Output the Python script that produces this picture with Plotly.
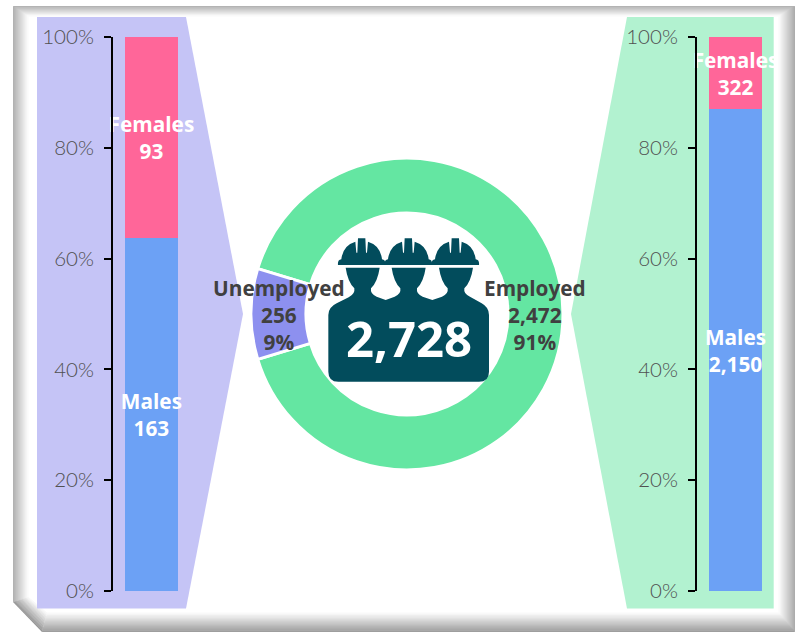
import plotly.graph_objects as go

W, H = 795, 634

# ---- data ----
status_labels = ["Employed", "Unemployed"]
status_values = [2472, 256]
group_labels = ["Males", "Females"]
unemployed_values = [163, 93]
employed_values = [2150, 322]
y_ticks = [0, 20, 40, 60, 80, 100]
y_tick_labels = ["0%", "20%", "40%", "60%", "80%", "100%"]

# ---- style ----
FONT = "Open Sans"
TICKFONT = "Lato"
BLUE, PINK = "#6CA1F5", "#FF6699"
GREEN, PURPLE = "#64E6A2", "#8D90EF"
TEAL = "#024C5C"


def px(x):
    return x / W


def py(y):
    return 1 - y / H


def poly(points, fill, layer="below"):
    d = "M " + " L ".join(f"{px(x):.5f},{py(y):.5f}" for x, y in points) + " Z"
    return dict(type="path", xref="paper", yref="paper", path=d, fillcolor=fill,
                line=dict(width=0), layer=layer)


def mix(c, t):
    v = round(c + (255 - c) * t)
    return f"rgb({v},{v},{v})"


shapes = []

# bevelled frame
O = dict(l=13, t=6, r=795, b=632, cy=602, cx=42)
I = dict(l=28, t=16, r=779, b=613, cy=597, cx=47)
N = 16
edge = dict(top=178, left=178, right=172, bottom=158, cham=150)
shapes.append(poly([(0, 0), (W, 0), (W, H), (0, H)], "#FFFFFF"))
for i in range(N):
    a, b = i / N, (i + 1) / N
    v = {k: O[k] + (I[k] - O[k]) * a for k in O}
    u = {k: O[k] + (I[k] - O[k]) * b for k in O}
    t = a
    shapes += [
        poly([(v["l"], v["t"]), (v["r"], v["t"]), (u["r"], u["t"] + .6), (u["l"], u["t"] + .6)], mix(edge["top"], t)),
        poly([(v["r"], v["t"]), (v["r"], v["b"]), (u["r"] - .6, u["b"]), (u["r"] - .6, u["t"])], mix(edge["right"], t)),
        poly([(v["cx"], v["b"]), (v["r"], v["b"]), (u["r"], u["b"] - .6), (u["cx"], u["b"] - .6)], mix(edge["bottom"], t)),
        poly([(v["l"], v["t"]), (v["l"], v["cy"]), (u["l"] + .6, u["cy"]), (u["l"] + .6, u["t"])], mix(edge["left"], t)),
        poly([(v["l"], v["cy"]), (v["cx"], v["b"]), (u["cx"], u["b"] - .6), (u["l"] + .6, u["cy"])], mix(edge["cham"], t)),
    ]

# callout panels behind the bars
shapes.append(poly([(37, 17), (186, 17), (243, 314), (186, 608.5), (37, 608.5)], "#C5C4F6"))
shapes.append(poly([(627, 17), (773.7, 17), (773.7, 608.5), (627, 608.5), (571, 314)], "#B2F2D0"))


# workers icon, in zoomed-crop coordinates of the centre region
def zx(x):
    return px(200 + x / 3)


def zy(y):
    return py(220 + y / 3)


def P(x, y):
    return f"{zx(x):.5f},{zy(y):.5f}"


def icon_path(cmds):
    out = []
    for c in cmds:
        op, pts = c[0], c[1:]
        out.append(op + " " + " ".join(P(*p) for p in pts))
    return " ".join(out) + " Z"


def head(c):
    return [
        ("Q", (c - 22, 222), (c - 25, 205)),
        ("Q", (c - 45, 185), (c - 51, 143)),
        ("L", (c + 51, 143)),
        ("Q", (c + 45, 185), (c + 25, 205)),
        ("Q", (c + 22, 222), (c + 42, 230)),
    ]


heads = [488, 626, 768]
cmds = [("M", (385, 285)), ("Q", (385, 262), (410, 250)), ("L", (heads[0] - 42, 232))]
for n, c in enumerate(heads):
    cmds += head(c)
    if n < 2:
        cmds += [("L", ((c + heads[n + 1]) / 2, 240)), ("L", (heads[n + 1] - 42, 230))]
cmds += [("L", (845, 250)), ("Q", (867, 262), (867, 285)), ("L", (867, 455)),
         ("Q", (867, 485), (837, 485)), ("L", (415, 485)), ("Q", (385, 485), (385, 455))]
shapes.append(dict(type="path", xref="paper", yref="paper", path=icon_path(cmds),
                   fillcolor=TEAL, line=dict(width=0), layer="above"))

for c in [485, 625, 766]:
    dome = [("M", (c - 71, 135)), ("Q", (c - 73, 120), (c - 61, 118)),
            ("Q", (c - 56, 76), (c - 19, 65)), ("L", (c - 16, 98)), ("L", (c - 13, 98)),
            ("L", (c - 11, 55)), ("L", (c + 11, 55)), ("L", (c + 13, 98)), ("L", (c + 16, 98)),
            ("L", (c + 19, 65)), ("Q", (c + 56, 76), (c + 61, 118)),
            ("Q", (c + 73, 120), (c + 71, 135))]
    shapes.append(dict(type="path", xref="paper", yref="paper", path=icon_path(dome),
                       fillcolor=TEAL, line=dict(width=0), layer="above"))

fig = go.Figure()

# stacked bars
for panel, values in (("", unemployed_values), ("2", employed_values)):
    for name, val, col in zip(group_labels, values, (BLUE, PINK)):
        fig.add_trace(go.Bar(
            x=[""], y=[val], name=name, xaxis="x" + panel, yaxis="y" + panel,
            marker=dict(color=col, line=dict(width=0)),
            text=[f"{name}<br>{val:,}"], textposition="inside", insidetextanchor="middle",
            constraintext="none", textangle=0, cliponaxis=False,
            textfont=dict(family=FONT, size=20.8, color="white", weight=700),
        ))

# doughnut
total = sum(status_values)
start = 270 + status_values[1] / total * 180
fig.add_trace(go.Pie(
    labels=status_labels, values=status_values, hole=101 / 156, sort=False, direction="clockwise",
    rotation=start, textinfo="none", hoverinfo="label+value",
    marker=dict(colors=[GREEN, PURPLE], line=dict(color="white", width=3)),
    domain=dict(x=[px(251), px(563)], y=[py(470), py(158)]),
))

annotations = []
for label, val, x in zip(status_labels, status_values, (535, 279)):
    annotations.append(dict(
        x=px(x), y=py(315), xref="paper", yref="paper", showarrow=False, align="center",
        xanchor="center", yanchor="middle",
        text=f"{label}<br>{val:,}<br>{val / total:.0%}",
        font=dict(family=FONT, size=20.8, color="#404040", weight=700),
    ))
annotations.append(dict(
    x=px(409), y=py(338), xref="paper", yref="paper", showarrow=False,
    xanchor="center", yanchor="middle",
    text=f"{total:,}", font=dict(family=FONT, size=49, color="white", weight=700),
))

yax = dict(
    range=[0, 100], tickvals=y_ticks, ticktext=y_tick_labels, ticks="outside", ticklen=7,
    tickwidth=2, tickcolor="black", showline=True, linecolor="black", linewidth=2,
    showgrid=False, zeroline=False, ticklabelstandoff=6, automargin=False,
    tickfont=dict(family=TICKFONT, size=20.5, color="#505050", weight=300),
    domain=[py(591), py(37)],
)
fig.update_layout(
    width=W, height=H, autosize=False, margin=dict(l=0, r=0, t=0, b=0, pad=0),
    paper_bgcolor="white", plot_bgcolor="rgba(0,0,0,0)", showlegend=False,
    barmode="stack", barnorm="percent", bargap=0.3125,
    shapes=shapes, annotations=annotations,
    xaxis=dict(domain=[px(113), px(189.8)], visible=False, anchor="y", automargin=False),
    yaxis=dict(anchor="x", **yax),
    xaxis2=dict(domain=[px(697), px(774)], visible=False, anchor="y2", automargin=False),
    yaxis2=dict(anchor="x2", **yax),
)
fig.write_html("out.html", config={"displayModeBar": False},
               post_script="document.body.style.margin='0';document.body.style.overflow='hidden';")
